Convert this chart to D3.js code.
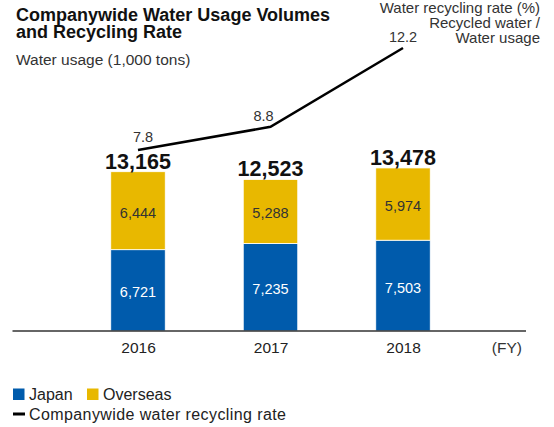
<!DOCTYPE html>
<html>
<head>
<meta charset="utf-8">
<script src="https://cdn.jsdelivr.net/npm/d3@7/dist/d3.min.js"></script>
<style>
  html, body { margin: 0; padding: 0; background: #fff; }
  svg { display: block; font-family: "Liberation Sans", Arial, Helvetica, sans-serif; }
</style>
</head>
<body>
<svg id="chart" width="554" height="427"></svg>
<script>
// ---- data ----
const years = ["2016", "2017", "2018"];
const japan = [6721, 7235, 7503];
const overseas = [6444, 5288, 5974];
const totals = [13165, 12523, 13478];
const recyclingRate = [7.8, 8.8, 12.2];
const seriesNames = ["Japan", "Overseas"];
const lineName = "Companywide water recycling rate";

const colors = { Japan: "#005bac", Overseas: "#e8b800" };

const svg = d3.select("#chart");

// scales
const x = d3.scalePoint().domain(years).range([138, 403]);
const barW = 54.5;
const y = d3.scaleLinear().domain([0, 20000]).range([331, 89]);
const yRate = d3.scaleLinear().domain([0, 10]).range([331, 99]);

const fmt = d3.format(",");

// stacked data
const rows = years.map((yr, i) => ({ year: yr, Japan: japan[i], Overseas: overseas[i] }));
const stack = d3.stack().keys(seriesNames)(rows);

// bars
const g = svg.append("g");
stack.forEach(layer => {
  g.selectAll(null).data(layer).enter().append("rect")
    .attr("x", d => x(d.data.year) - barW / 2)
    .attr("y", d => y(d[1]))
    .attr("width", barW)
    .attr("height", d => y(d[0]) - y(d[1]))
    .attr("fill", colors[layer.key])
    .attr("stroke", "#ffffff")
    .attr("stroke-width", 0.8);
  g.selectAll(null).data(layer).enter().append("text")
    .attr("x", d => x(d.data.year))
    .attr("y", d => (y(d[0]) + y(d[1])) / 2 + 7)
    .attr("text-anchor", "middle")
    .attr("font-size", 14.5)
    .attr("fill", layer.key === "Japan" ? "#ffffff" : "#333333")
    .text(d => fmt(d[1] - d[0]));
});

// totals
g.selectAll(null).data(years).enter().append("text")
  .attr("x", d => x(d))
  .attr("y", (d, i) => y(totals[i]) - 3)
  .attr("text-anchor", "middle")
  .attr("font-size", 21.5)
  .attr("font-weight", "bold")
  .attr("fill", "#111")
  .text((d, i) => fmt(totals[i]));

// baseline
svg.append("line")
  .attr("x1", 12.5).attr("x2", 526)
  .attr("y1", y(0)).attr("y2", y(0))
  .attr("stroke", "#333").attr("stroke-width", 1.5);

// x axis labels
const axis = d3.axisBottom(x).tickSize(0).tickPadding(11);
const ax = svg.append("g").attr("transform", `translate(0,${y(0)})`).call(axis);
ax.select(".domain").remove();
ax.selectAll("text")
  .attr("font-size", 15.5)
  .attr("font-family", "Liberation Sans, Arial, sans-serif")
  .attr("fill", "#222");

svg.append("text").attr("x", 522).attr("y", 353)
  .attr("text-anchor", "end").attr("font-size", 15.5).attr("fill", "#333").text("(FY)");

// rate line
const line = d3.line().x((d, i) => x(years[i])).y(d => yRate(d));
svg.append("path").datum(recyclingRate)
  .attr("d", line)
  .attr("fill", "none").attr("stroke", "#000").attr("stroke-width", 2.5);

const labelOffsets = [[5, -8], [-7, -6], [0, -6]];
svg.selectAll(null).data(recyclingRate).enter().append("text")
  .attr("x", (d, i) => x(years[i]) + labelOffsets[i][0])
  .attr("y", (d, i) => yRate(d) + labelOffsets[i][1])
  .attr("text-anchor", "middle")
  .attr("font-size", 14.5)
  .attr("fill", "#333")
  .text(d => d.toFixed(1));

// titles
const title = svg.append("text").attr("font-weight", "bold").attr("font-size", 18)
  .attr("fill", "#111");
title.append("tspan").attr("x", 16).attr("y", 20.5).text("Companywide Water Usage Volumes");
title.append("tspan").attr("x", 16).attr("y", 37.5).text("and Recycling Rate");

svg.append("text").attr("x", 16).attr("y", 64.5).attr("font-size", 15.5)
  .attr("fill", "#333").text("Water usage (1,000 tons)");

const rt = svg.append("text").attr("text-anchor", "end").attr("font-size", 15).attr("fill", "#333");
["Water recycling rate (%)", "Recycled water /", "Water usage"].forEach((t, i) => {
  rt.append("tspan").attr("x", 540).attr("y", 13 + i * 15).text(t);
});

// legend
const lg = svg.append("g");
seriesNames.forEach((name, i) => {
  const gx = i === 0 ? 13 : 87;
  lg.append("rect").attr("x", gx).attr("y", 388.5).attr("width", 11.5).attr("height", 11.5).attr("fill", colors[name]);
  lg.append("text").attr("x", gx + 16).attr("y", 399.5).attr("font-size", 16).attr("fill", "#222").text(name);
});
lg.append("rect").attr("x", 13).attr("y", 412.5).attr("width", 12).attr("height", 3).attr("fill", "#000");
lg.append("text").attr("x", 29).attr("y", 419.5).attr("font-size", 16).attr("letter-spacing", 0.4)
  .attr("fill", "#222").text(lineName);
</script>
</body>
</html>
